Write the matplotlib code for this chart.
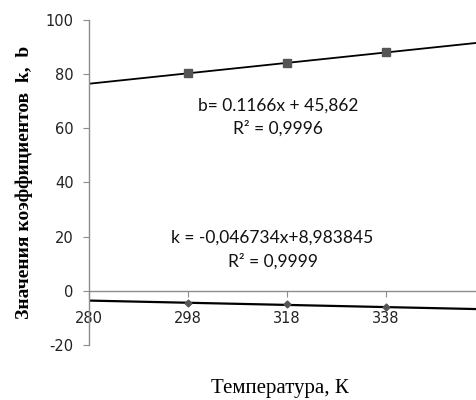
import numpy as np
import matplotlib.pyplot as plt

plt.rcParams["axes.unicode_minus"] = False

# категории по оси X (температура, К)
temps = ["280", "298", "318", "338"]
# значения коэффициентов при 298, 318, 338 К
b_vals = [80.3, 84.2, 88.0]
k_vals = [-4.5, -5.0, -6.1]

eq_b = "b= 0.1166x + 45,862"
r2_b = "R² = 0,9996"
eq_k = "k = -0,046734x+8,983845"
r2_k = "R² = 0,9999"

fig = plt.figure(figsize=(4.76, 4.0), dpi=100)
ax = fig.add_axes([0.187, 0.1375, 0.813, 0.8125])

x_pts = np.arange(1, len(b_vals) + 1)
x_line = np.array([0, 3.91])

# точки
ax.plot(x_pts, b_vals, "s", color="#555555", ms=6, zorder=3)
ax.plot(x_pts, k_vals, "D", color="#555555", ms=3.5, zorder=3)

# линии тренда
pb = np.polyfit(x_pts, b_vals, 1)
pk = np.polyfit(x_pts, k_vals, 1)
ax.plot(x_line, np.polyval(pb, x_line), color="black", lw=1.3, zorder=2)
ax.plot(x_line, np.polyval(pk, x_line), color="black", lw=1.6, zorder=2)

ax.set_xlim(0, 3.91)
ax.set_ylim(-20, 100)
ax.set_yticks(range(-20, 101, 20))
ax.set_xticks(range(len(temps)))
ax.set_xticklabels(temps)

for s in ["top", "right"]:
    ax.spines[s].set_visible(False)
ax.spines["bottom"].set_position(("data", 0))
for s in ["left", "bottom"]:
    ax.spines[s].set_color("#8c8c8c")
    ax.spines[s].set_linewidth(1.0)

ax.tick_params(axis="y", direction="out", length=4, color="#8c8c8c",
               labelsize=10.5, labelcolor="#222222", pad=7)
ax.tick_params(axis="x", direction="out", length=4, color="#8c8c8c",
               labelsize=10.5, labelcolor="#222222", pad=10.5)
for lab in ax.get_xticklabels() + ax.get_yticklabels():
    lab.set_family("DejaVu Sans")

# уравнения
ax.text(1.91, 68.3, eq_b, ha="center", va="center", fontsize=12.5,
        family="Lato", color="#111111")
ax.text(1.91, 59.8, r2_b, ha="center", va="center", fontsize=12.5,
        family="Lato", color="#111111")
ax.text(1.85, 19.6, eq_k, ha="center", va="center", fontsize=12.5,
        family="Lato", color="#111111")
ax.text(1.86, 10.7, r2_k, ha="center", va="center", fontsize=12.5,
        family="Lato", color="#111111")

fig.text(0.589, 0.03, "Температура, К", ha="center", va="center",
         fontsize=15, family="Liberation Serif")
fig.text(0.05, 0.545, "Значения коэффициентов  k,  b", ha="center",
         va="center", rotation=90, fontsize=14, fontweight="bold",
         family="Liberation Serif")

fig.savefig("out.png", dpi=100)
